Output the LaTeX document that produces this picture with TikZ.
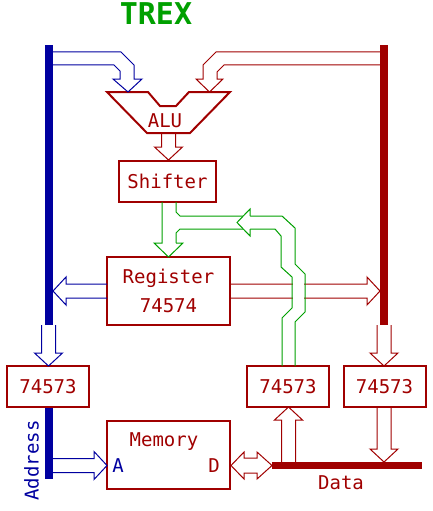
\documentclass[tikz,border=0pt]{standalone}
\usepackage{fontspec}
\newfontfamily\trexfont{DejaVu Sans Mono}
\usetikzlibrary{positioning}
\definecolor{trexBlue}{HTML}{0000A0}
\definecolor{trexRed}{HTML}{A00000}
\definecolor{trexGreen}{HTML}{00A000}
\tikzset{
  trexbox/.style={draw=trexRed,line width=2pt,fill=white,minimum width=82,
                  minimum height=41,inner sep=0pt,text=trexRed,
                  font=\trexfont\fontsize{19}{22}\selectfont},
  trexbus/.style={inner sep=0pt,minimum width=8,minimum height=8},
  trextext/.style={inner sep=0pt,font=\trexfont\fontsize{19}{22}\selectfont},
  trexarrow/.style={line width=1pt,line join=miter}
}
% hollow arrows: colour, centre line, tail, tip
\newcommand{\trexdown}[4]{\draw[trexarrow,#1] ({#2-7},#3) -- ({#2-7},{#4-13})
  -- ({#2-14},{#4-13}) -- (#2,#4) -- ({#2+14},{#4-13}) -- ({#2+7},{#4-13})
  -- ({#2+7},#3);}
\newcommand{\trexup}[4]{\draw[trexarrow,#1] ({#2-7},#3) -- ({#2-7},{#4+13})
  -- ({#2-14},{#4+13}) -- (#2,#4) -- ({#2+14},{#4+13}) -- ({#2+7},{#4+13})
  -- ({#2+7},#3);}
\newcommand{\trexright}[4]{\draw[trexarrow,#1] (#3,{#2-7}) -- ({#4-13},{#2-7})
  -- ({#4-13},{#2-14}) -- (#4,#2) -- ({#4-13},{#2+14}) -- ({#4-13},{#2+7})
  -- (#3,{#2+7});}
\newcommand{\trexleft}[4]{\draw[trexarrow,#1] (#3,{#2-7}) -- ({#4+13},{#2-7})
  -- ({#4+13},{#2-14}) -- (#4,#2) -- ({#4+13},{#2+14}) -- ({#4+13},{#2+7})
  -- (#3,{#2+7});}

\begin{document}
\begin{tikzpicture}[x=1pt,y=-1pt]
    \useasboundingbox (0,0) rectangle (432,511);
    \node[trextext,text=trexGreen,font=\trexfont\bfseries\fontsize{30}{32}\selectfont]
      (title) at (156,14) {TREX};

    % buses
    \node[trexbus,fill=trexBlue,minimum height=280] (abus) at (49,185) {};
    \node[trexbus,fill=trexRed,minimum height=280] (dbus) at (384,185) {};
    \node[trexbus,fill=trexBlue,minimum height=72] (addr) at (49,443) {};
    \node[trexbus,fill=trexRed,minimum width=150,minimum height=7] (data) at (347,465.5) {};
    \node[trextext,text=trexBlue,rotate=90] (addrlabel) at (31.5,460.5) {Address};
    \node[trextext,text=trexRed] (datalabel) at (341,482.5) {Data};

    % ALU
    \draw[trexRed,line width=2pt,line join=miter] (107,92) -- (148,92) -- (160,106)
      -- (176,106) -- (189,92) -- (230,92) -- (190,133) -- (147,133) -- cycle;
    \node[trextext,text=trexRed] (alu) at (165,120.5) {ALU};
    \draw[trexarrow,trexBlue] (53,52) -- (121,52) -- (134,65) -- (134,79) -- (142,79)
      -- (128,92) -- (113,79) -- (120,79) -- (120,71) -- (114,65) -- (53,65);
    \draw[trexarrow,trexRed] (380,52) -- (216,52) -- (203,65) -- (203,79) -- (196,79)
      -- (209.5,92) -- (223,79) -- (217,79) -- (217,72) -- (224,65) -- (380,65);

    % boxes
    \node[trexbox,minimum width=97] (shifter) at (167.5,181.5) {Shifter};
    \node[trexbox,minimum width=123,minimum height=68,align=center] (register)
      at (168.5,291) {Register\\[7pt]74574};
    \node[trexbox,minimum width=123,minimum height=68] (memory) at (168.5,455) {};
    \node[trextext,text=trexRed] (memlabel) at (164,442) {Memory};
    \node[trextext,text=trexBlue] (mema) at (118,466) {A};
    \node[trextext,text=trexRed] (memd) at (214,466) {D};
    \node[trexbox] (latchA) at (48,386.5) {74573};
    \node[trexbox] (latchB) at (288,386.5) {74573};
    \node[trexbox] (latchC) at (384.5,386.5) {74573};

    % data paths
    \trexdown{trexRed}{168.5}{134}{160}
    \trexleft{trexBlue}{291}{107}{53}
    \trexright{trexRed}{291}{230}{380}
    \trexdown{trexBlue}{48.5}{325}{366}
    \trexright{trexBlue}{465.5}{53}{107}
    \trexup{trexRed}{288.5}{462}{407}
    \trexdown{trexRed}{384}{325}{366}
    \trexdown{trexRed}{384}{407}{462}
    \draw[trexarrow,trexRed] (231,465.5) -- (244,452) -- (244,458) -- (257,458)
      -- (257,452) -- (272,465.5) -- (257,479) -- (257,473) -- (244,473)
      -- (244,479) -- cycle;

    % shifter output and feedback
    \fill[white] (293,279) rectangle (304,303);
    \draw[trexarrow,trexGreen] (176,202) -- (176,212) -- (180,216) -- (282,216)
      -- (295,228) -- (295,264) -- (305,274) -- (305,312) -- (295,322) -- (295,366);
    \draw[trexarrow,trexGreen] (176,243) -- (176,233) -- (180,229) -- (275,229)
      -- (281,236) -- (281,267) -- (292,277) -- (292,308) -- (282,318) -- (282,366);
    \draw[trexarrow,trexGreen] (162,202) -- (162,243) -- (154,243) -- (168.5,257)
      -- (183,243) -- (176,243);
    \draw[trexarrow,trexGreen,fill=white] (250,216) -- (250,209) -- (237,222.5)
      -- (250,236) -- (250,229);
\end{tikzpicture}
\end{document}
